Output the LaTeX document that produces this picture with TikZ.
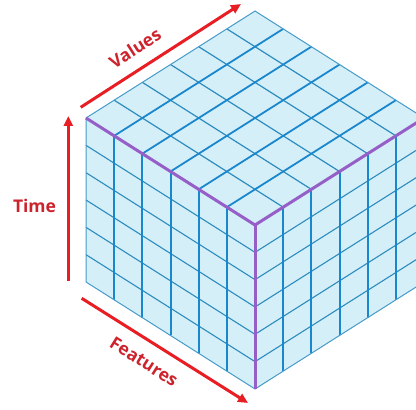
\documentclass[tikz,border=0pt]{standalone}
\usepackage{fontspec}
\setmainfont{Open Sans}
\usetikzlibrary{arrows.meta}
\definecolor{cubefill}{RGB}{213,239,249}
\definecolor{gridblue}{RGB}{25,135,205}
\definecolor{thinblue}{RGB}{45,140,190}
\definecolor{edgeblue}{RGB}{70,155,200}
\definecolor{edgepurple}{RGB}{150,95,200}
\definecolor{axisred}{RGB}{232,30,36}
\definecolor{labelred}{RGB}{205,35,45}

\begin{document}
\begin{tikzpicture}[x=1pt,y=1pt,
    axis/.style={-{Triangle[length=10pt,width=9pt]},line width=3pt,axisred},
    axislabel/.style={font=\fontsize{17.5}{20}\selectfont\bfseries,labelred}]
    \useasboundingbox (0,0) rectangle (416,410);
    \clip (0,0) rectangle (416,410);

    % Cube, 6 x 6 x 6 cells
    \begin{scope}[shift={(86,128)},x={(28.17pt,-17.83pt)},y={(28.17pt,17.83pt)},z={(0pt,27.33pt)}]
        \fill[cubefill] (0,0,0) -- (6,0,0) -- (6,6,0) -- (6,6,6) -- (0,6,6) -- (0,0,6) -- cycle;

        % left face
        \foreach \k in {1,...,5}
            \draw[thinblue,line width=1.1pt] (0,0,\k) -- (6,0,\k);
        \foreach \i in {1,...,5}
            \draw[gridblue,line width=2pt] (\i,0,0) -- (\i,0,6);

        % right face
        \foreach \k in {1,...,5}
            \draw[thinblue,line width=1.1pt] (6,0,\k) -- (6,6,\k);
        \foreach \j in {1,...,5}
            \draw[gridblue,line width=2pt] (6,\j,0) -- (6,\j,6);

        % top face
        \foreach \j in {1,...,5}
            \draw[thinblue,line width=1.2pt] (0,\j,6) -- (6,\j,6);
        \foreach \i in {1,...,5}
            \draw[gridblue,line width=1.8pt] (\i,0,6) -- (\i,6,6);

        % outline
        \draw[edgeblue,line width=1pt] (0,0,0) -- (6,0,0) -- (6,6,0) -- (6,6,6) -- (0,6,6) -- (0,0,6) -- cycle;
        \draw[edgepurple,line width=3pt,line join=round] (0,0,6) -- (6,0,6) -- (6,6,6);
        \draw[edgepurple,line width=3pt] (6,0,6) -- (6,0,0);
    \end{scope}

    % Values
    \coordinate (values start) at (80.7,302.7);
    \coordinate (values end) at (241,406);
    \draw[axis] (values start) -- (values end);
    \node[axislabel,rotate=32.7] (values) at (135,361.7) {Values};

    % Time
    \coordinate (time start) at (68.3,129);
    \coordinate (time end) at (68.3,294);
    \draw[axis] (time start) -- (time end);
    \node[axislabel] (time) at (34.5,204.5) {Time};

    % Features
    \coordinate (features start) at (81.7,111.7);
    \coordinate (features end) at (248,7);
    \draw[axis] (features start) -- (features end);
    \node[axislabel,rotate=-32.2] (features) at (144,48.3) {Features};
\end{tikzpicture}
\end{document}
